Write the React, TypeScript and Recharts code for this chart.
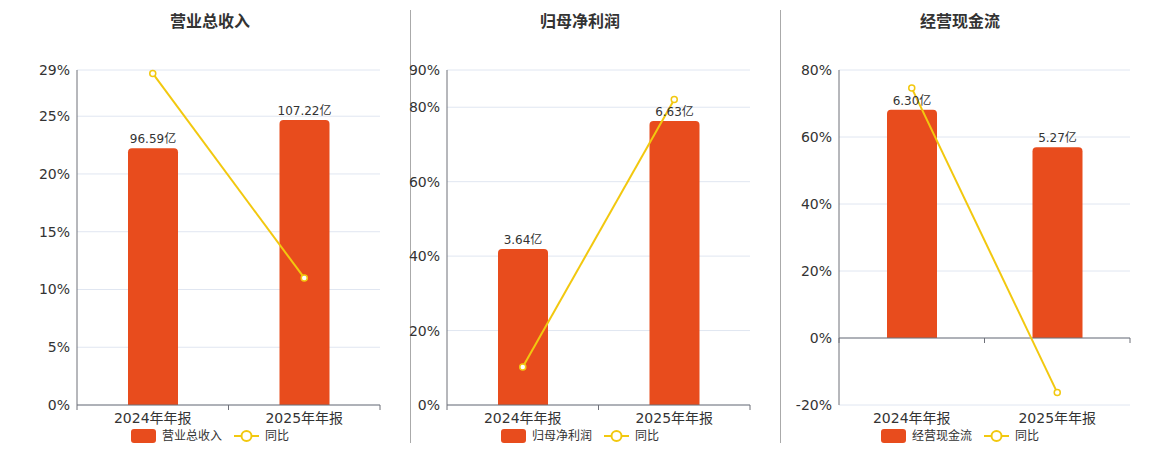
import React from "react";
import {
  ComposedChart,
  Bar,
  Line,
  XAxis,
  YAxis,
  CartesianGrid,
  LabelList,
  ReferenceLine,
} from "recharts";

const periods = ["2024年年报", "2025年年报"];

const revenue = [96.59, 107.22];
const revenueYoy = [28.7, 11.0];
const revenueTicks = [0, 5, 10, 15, 20, 25, 29];

const netProfit = [3.64, 6.63];
const netProfitYoy = [10.2, 82.1];
const netProfitTicks = [0, 20, 40, 60, 80, 90];

const cashFlow = [6.3, 5.27];
const cashFlowYoy = [74.6, -16.3];
const cashFlowTicks = [-20, 0, 20, 40, 60, 80];

const BAR = "#E84C1D";
const LINE = "#F2C80F";
const AXIS = "#6e7079";
const GRID = "#e0e6f1";
const FONT = "'DejaVu Sans', 'Noto Sans CJK SC', sans-serif";

const TOP = 70;
const PLOT_H = 335;
const HEIGHT = 450;

interface PanelProps {
  title: string;
  amounts: number[];
  yoy: number[];
  ticks: number[];
  amountDomain: [number, number];
  left: number;
  width: number;
  marginLeft: number;
  center: number;
}

function Panel({
  title,
  amounts,
  yoy,
  ticks,
  amountDomain,
  left,
  width,
  marginLeft,
  center,
}: PanelProps) {
  const data = periods.map((p, i) => ({ period: p, amount: amounts[i], yoy: yoy[i] }));
  const yMin = ticks[0];
  const yMax = ticks[ticks.length - 1];
  const plotW = width - marginLeft - 60 - 30;
  const band = plotW / periods.length;
  const zeroY = TOP + (PLOT_H * yMax) / (yMax - yMin);
  const hasNegative = yMin < 0;

  const renderTick = (props: any) => {
    const { x, y, payload, index } = props;
    return (
      <g>
        <line x1={x - band / 2} x2={x - band / 2} y1={zeroY} y2={zeroY + 5} stroke={AXIS} />
        {index === periods.length - 1 && (
          <line x1={x + band / 2} x2={x + band / 2} y1={zeroY} y2={zeroY + 5} stroke={AXIS} />
        )}
        <text x={x} y={y} dy="0.71em" textAnchor="middle" fill="#333" fontSize={14}>
          {payload.value}
        </text>
      </g>
    );
  };

  return (
    <>
      <div
        style={{
          position: "absolute",
          left: center - 100,
          width: 200,
          top: 12,
          textAlign: "center",
          fontSize: 16,
          fontWeight: "bold",
          color: "#333",
          lineHeight: "20px",
        }}
      >
        {title}
      </div>
      <div style={{ position: "absolute", left, top: 0 }}>
        <ComposedChart
          width={width}
          height={HEIGHT}
          data={data}
          margin={{ top: TOP, right: 30, left: marginLeft, bottom: HEIGHT - TOP - PLOT_H - 30 }}
        >
          <CartesianGrid yAxisId="pct" vertical={false} stroke={GRID} />
          <XAxis
            dataKey="period"
            height={30}
            axisLine={hasNegative ? false : { stroke: AXIS }}
            tickLine={false}
            tickSize={6}
            tick={renderTick}
          />
          <YAxis
            yAxisId="pct"
            width={60}
            domain={[yMin, yMax]}
            ticks={ticks}
            interval={0}
            tickFormatter={(v: number) => `${v}%`}
            axisLine={{ stroke: AXIS }}
            tickLine={false}
            tickSize={5}
            tick={{ fontSize: 14, fill: "#333" }}
          />
          <YAxis yAxisId="amt" orientation="right" hide domain={amountDomain} />
          {hasNegative && <ReferenceLine yAxisId="pct" y={0} stroke={AXIS} />}
          <Bar
            yAxisId="amt"
            dataKey="amount"
            fill={BAR}
            barSize={50}
            radius={[4, 4, 0, 0]}
            isAnimationActive={false}
          >
            <LabelList
              dataKey="amount"
              position="top"
              formatter={(v: any) => `${Number(v).toFixed(2)}亿`}
              style={{ fontSize: 12, fill: "#333" }}
            />
          </Bar>
          <Line
            yAxisId="pct"
            dataKey="yoy"
            type="linear"
            stroke={LINE}
            strokeWidth={2}
            dot={{ r: 3, fill: "#fff", stroke: LINE, strokeWidth: 1.5 }}
            isAnimationActive={false}
          />
        </ComposedChart>
      </div>
      <div
        style={{
          position: "absolute",
          left: center - 150,
          width: 300,
          top: 429,
          display: "flex",
          justifyContent: "center",
          alignItems: "center",
          fontSize: 12,
          color: "#333",
          lineHeight: "14px",
        }}
      >
        <span
          style={{ display: "inline-block", width: 25, height: 14, background: BAR, borderRadius: 3, marginRight: 6 }}
        />
        <span style={{ marginRight: 12 }}>{title}</span>
        <svg width={25} height={14} style={{ marginRight: 6 }}>
          <line x1={0} x2={25} y1={7} y2={7} stroke={LINE} strokeWidth={2} />
          <circle cx={12.5} cy={7} r={5} fill="#fff" stroke={LINE} strokeWidth={2} />
        </svg>
        <span>同比</span>
      </div>
    </>
  );
}

export default function App() {
  return (
    <div
      style={{
        position: "fixed",
        left: 0,
        top: 0,
        width: 1160,
        height: 450,
        background: "#fff",
        fontFamily: FONT,
      }}
    >
      <div style={{ position: "absolute", left: 410, top: 10, width: 1, height: 433, background: "#aaa" }} />
      <div style={{ position: "absolute", left: 780, top: 10, width: 1, height: 433, background: "#aaa" }} />
      <Panel
        title="营业总收入"
        amounts={revenue}
        yoy={revenueYoy}
        ticks={revenueTicks}
        amountDomain={[0, 126]}
        left={0}
        width={410}
        marginLeft={17}
        center={210}
      />
      <Panel
        title="归母净利润"
        amounts={netProfit}
        yoy={netProfitYoy}
        ticks={netProfitTicks}
        amountDomain={[0, 7.82]}
        left={380}
        width={400}
        marginLeft={7}
        center={580}
      />
      <Panel
        title="经营现金流"
        amounts={cashFlow}
        yoy={cashFlowYoy}
        ticks={cashFlowTicks}
        amountDomain={[-1.85, 7.4]}
        left={770}
        width={390}
        marginLeft={9}
        center={960}
      />
    </div>
  );
}
